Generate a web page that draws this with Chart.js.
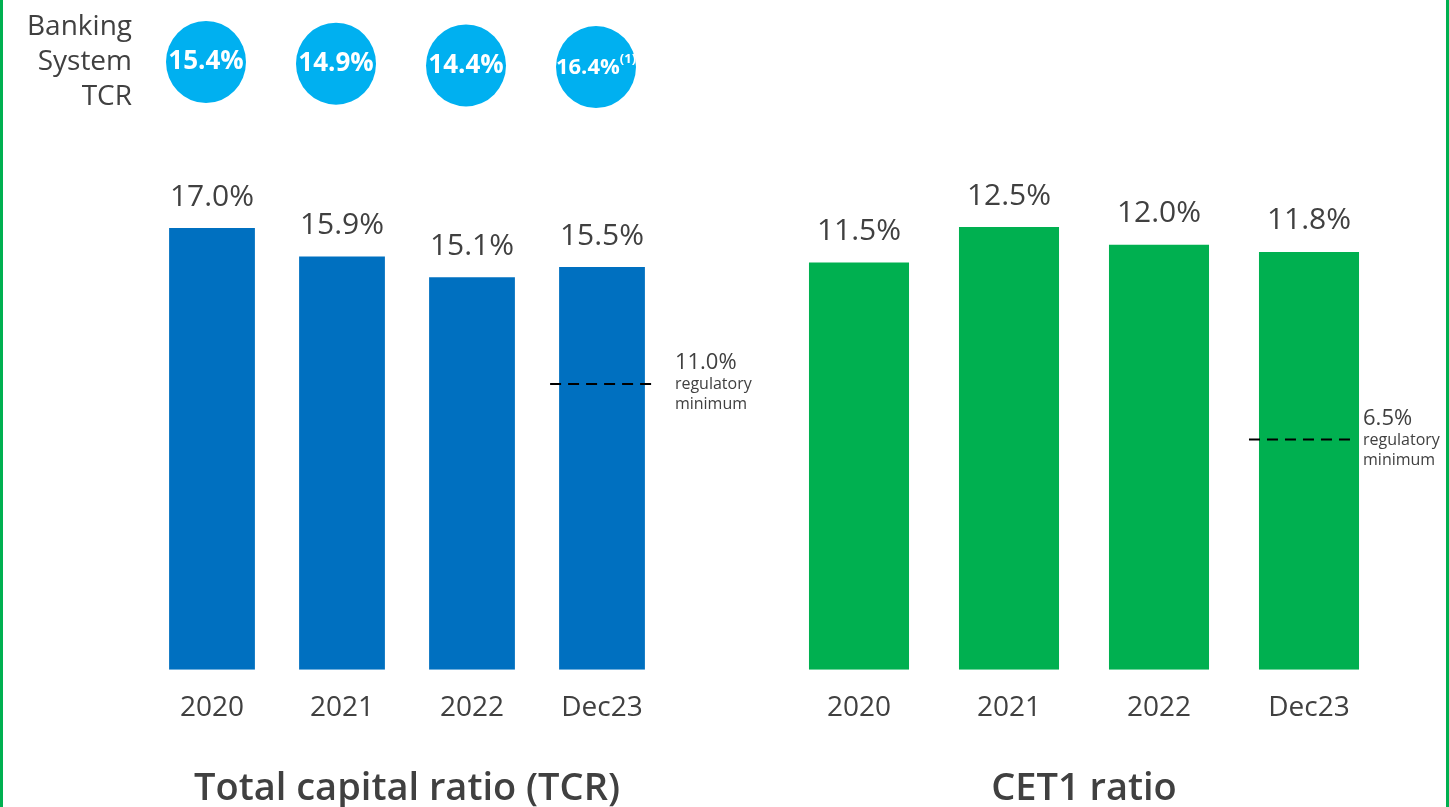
<!DOCTYPE html>
<html>
<head>
<meta charset="utf-8">
<script src="https://cdn.jsdelivr.net/npm/chart.js@4.4.0/dist/chart.umd.min.js"></script>
<style>
  html, body { margin: 0; padding: 0; background: #fff; overflow: hidden; }
  body { width: 1449px; height: 807px; position: relative; }
  .wrap { position: absolute; top: 0; height: 830px; }
  #left-wrap { left: 0; width: 800px; }
  #right-wrap { left: 725px; width: 724px; }
  .edge { position: absolute; top: 0; width: 3px; height: 807px; background: #00B050; }
</style>
</head>
<body>
<div class="wrap" id="left-wrap"><canvas id="tcr-chart" width="800" height="830"></canvas></div>
<div class="wrap" id="right-wrap"><canvas id="cet1-chart" width="724" height="830"></canvas></div>
<div class="edge" style="left:0"></div>
<div class="edge" style="left:1446px"></div>
<script>
// data
const periods = ['2020', '2021', '2022', 'Dec23'];
const tcrValues = [17.0, 15.9, 15.1, 15.5];
const cet1Values = [11.5, 12.5, 12.0, 11.8];
const bankingSystemTcr = [15.4, 14.9, 14.4, 16.4];
const bankingSystemNotes = ['', '', '', '(1)'];
const tcrMinimum = 11.0;
const cet1Minimum = 6.5;

const FONT = "'Open Sans', sans-serif";
const TEXT = '#404040';

// value labels above bars
const valueLabels = {
  id: 'valueLabels',
  afterDatasetsDraw(chart) {
    const ctx = chart.ctx;
    const meta = chart.getDatasetMeta(0);
    const values = chart.data.datasets[0].data;
    ctx.save();
    ctx.font = `30px ${FONT}`;
    ctx.fillStyle = TEXT;
    ctx.textAlign = 'center';
    ctx.textBaseline = 'middle';
    meta.data.forEach((bar, i) => {
      ctx.fillText(values[i].toFixed(1) + '%', bar.x, bar.y - 31);
    });
    ctx.restore();
  }
};

// dashed regulatory minimum over the last bar
const minimumLine = {
  id: 'minimumLine',
  afterDatasetsDraw(chart, args, opts) {
    const ctx = chart.ctx;
    const meta = chart.getDatasetMeta(0);
    const bar = meta.data[meta.data.length - 1];
    const y = chart.scales.y.getPixelForValue(opts.value);
    const x0 = bar.x - bar.width / 2 - opts.extLeft;
    const x1 = bar.x + bar.width / 2 + opts.extRight;
    ctx.save();
    ctx.strokeStyle = '#000';
    ctx.lineWidth = 2;
    ctx.setLineDash([11, 7]);
    ctx.beginPath();
    ctx.moveTo(x0, y);
    ctx.lineTo(x1, y);
    ctx.stroke();
    ctx.setLineDash([]);
    ctx.fillStyle = TEXT;
    ctx.textAlign = 'left';
    ctx.textBaseline = 'middle';
    const lx = x1 + opts.gap;
    ctx.font = `22px ${FONT}`;
    ctx.fillText(opts.value.toFixed(1) + '%', lx, y - 21);
    ctx.font = `16px ${FONT}`;
    ctx.fillText('regulatory', lx, y + 1);
    ctx.fillText('minimum', lx, y + 21);
    ctx.restore();
  }
};

// banking system TCR bubbles at the top of the left chart
const bankingBubbles = {
  id: 'bankingBubbles',
  afterDraw(chart) {
    const ctx = chart.ctx;
    const xs = chart.scales.x;
    ctx.save();
    ctx.fillStyle = TEXT;
    ctx.font = `28px ${FONT}`;
    ctx.textAlign = 'right';
    ctx.textBaseline = 'middle';
    ['Banking', 'System', 'TCR'].forEach((t, i) => ctx.fillText(t, 132, 27 + i * 35));

    bankingSystemTcr.forEach((v, i) => {
      const cx = xs.getPixelForValue(i) - 6;
      const cy = 62 + i * 1.7;
      ctx.fillStyle = '#00B0F0';
      ctx.beginPath();
      ctx.ellipse(cx, cy, 40, 41, 0, 0, Math.PI * 2);
      ctx.fill();
      ctx.fillStyle = '#fff';
      ctx.textBaseline = 'middle';
      const label = v.toFixed(1) + '%';
      const note = bankingSystemNotes[i];
      if (note) {
        ctx.font = `bold 22px ${FONT}`;
        const w = ctx.measureText(label).width;
        ctx.font = `bold 13px ${FONT}`;
        const nw = ctx.measureText(note).width;
        const start = cx - (w + nw) / 2;
        ctx.textAlign = 'left';
        ctx.font = `bold 22px ${FONT}`;
        ctx.fillText(label, start, cy + 1);
        ctx.font = `bold 13px ${FONT}`;
        ctx.fillText(note, start + w, cy - 8);
      } else {
        ctx.font = `bold 26px ${FONT}`;
        ctx.textAlign = 'center';
        ctx.fillText(label, cx, cy);
      }
    });
    ctx.restore();
  }
};

function makeChart(id, values, color, yMax, padding, title, minimum, barPct, extra) {
  const ctx = document.getElementById(id).getContext('2d');
  return new Chart(ctx, {
    type: 'bar',
    data: {
      labels: periods,
      datasets: [{
        data: values,
        backgroundColor: color,
        borderWidth: 0,
        barPercentage: barPct,
        categoryPercentage: 1
      }]
    },
    options: {
      responsive: false,
      animation: false,
      layout: { padding: padding },
      scales: {
        x: {
          grid: { display: false, drawTicks: false },
          border: { display: false },
          ticks: { color: TEXT, font: { family: FONT, size: 28 }, padding: 21 }
        },
        y: { display: false, min: 0, max: yMax }
      },
      plugins: {
        legend: { display: false },
        tooltip: { enabled: false },
        title: {
          display: true,
          position: 'bottom',
          text: title,
          color: TEXT,
          font: { family: FONT, size: 38, weight: '600' },
          padding: { top: 21, bottom: 0 }
        },
        minimumLine: minimum
      }
    },
    plugins: [valueLabels, minimumLine].concat(extra)
  });
}

makeChart('tcr-chart', tcrValues, '#0070C0', 20,
  { left: 147, right: 133, top: 150, bottom: 18 },
  'Total capital ratio (TCR)', { value: tcrMinimum, extLeft: 9, extRight: 10, gap: 20 }, 0.66, [bankingBubbles]);

makeChart('cet1-chart', cet1Values, '#00B050', 14,
  { left: 59, right: 65, top: 174, bottom: 18 },
  'CET1 ratio', { value: cet1Minimum, extLeft: 10, extRight: -6, gap: 10 }, 0.667, []);
</script>
</body>
</html>
